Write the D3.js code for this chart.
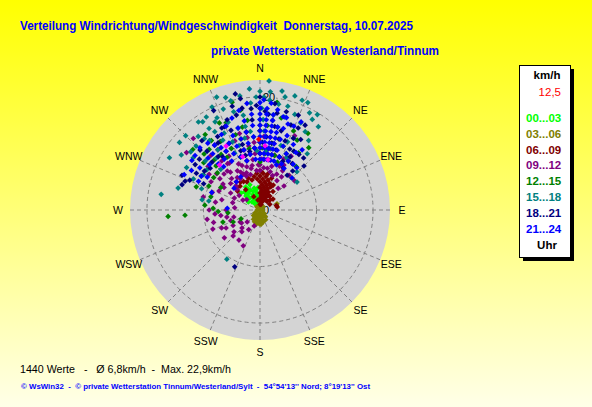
<!DOCTYPE html>
<html>
<head>
<meta charset="utf-8">
<script src="https://cdn.jsdelivr.net/npm/d3@7"></script>
<style>
  body { margin: 0; overflow: hidden; }
  text { font-family: "Liberation Sans", Arial, sans-serif; }
</style>
</head>
<body>
<div id="chart"></div>
<script>
/*
------------------------------
DATA
------------------------------
*/
const titleText = "Verteilung Windrichtung/Windgeschwindigkeit  Donnerstag, 10.07.2025";
const subtitleText = "private Wetterstation Westerland/Tinnum";
const statsText = "1440 Werte   -   Ø 6,8km/h  -  Max. 22,9km/h";
const footerText = "© WsWin32  -  © private Wetterstation Tinnum/Westerland/Sylt  -  54°54'13'' Nord; 8°19'13'' Ost";

const compassLabels = ["N", "NNE", "NE", "ENE", "E", "ESE", "SE", "SSE", "S", "SSW", "SW", "WSW", "W", "WNW", "NW", "NNW"];
const ringTicks = [10, 20];
const ringLabels = [0, 20];
const maxSpeed = 23;

const timeSlots = ["00...03", "03...06", "06...09", "09...12", "12...15", "15...18", "18...21", "21...24"];

// [direction in degrees, speed in km/h]
const slot00 = [[315,2],[315,3.5],[320,1.5],[320,2.8],[320,4.2],[325,2],[325,3.6],[330,1.5],[330,2.5],[330,4.2],[335,2],[335,3],[340,1.5],[340,3.5],[345,1],[345,2.5],[345,4],[350,1.5],[350,3],[355,1],[355,2.2],[355,4],[0,1.5],[0,3],[5,2],[305,2.5],[310,3],[312,4.5],[338,4.8],[328,4.8],[342,2.6],[333,3.9],[318,3],[326,1],[336,1.2],[348,3.6],[352,2],[322,3.8]];
const slot03 = [[0,0],[180,0.5],[180,1],[180,1.5],[180,2],[170,1],[170,1.8],[190,1],[190,1.8],[200,1.2],[200,2],[160,1.3],[160,0.8],[210,1.6],[150,1],[220,1],[185,2.3],[175,2.5],[90,0.5],[270,0.5],[70,3.2],[195,2.6],
  [150,2],[140,1.5],[230,1.5],[240,1],[165,2.2],[205,2.3],[215,2],[180,2.5],[130,1],[0,0.5],[45,0.8],[315,0.8]];
const slot06 = [[0,1],[0,2],[0,3],[0,4],[0,5],[0,6],[5,1.5],[5,2.5],[5,3.5],[5,4.5],[5,5.5],[5,6.5],[10,1],[10,2],[10,3],[10,4],[10,5],[10,6],[15,1.5],[15,2.5],[15,3.5],[15,4.5],[15,5.5],[20,2],[20,3],[20,4],[20,5],[25,2.5],[25,3.5],[25,4.5],[30,2],[30,3],[35,3],[40,2],[45,2.5],[60,2],[75,3],[80,3.1],[355,5.5],[355,6.5],[350,6],[345,5.5],[340,6],[335,5.5],[330,5.8],[325,6],[320,5.5],[315,5.8],[310,5.2],[2,6.8],[12,6.5],[20,6],[28,5],[35,4],[50,3],
  [335,2.6],[348,1.8],[325,4.4]];
const slot09 = [[317,17.3],[308,16.5],[283,10.3],[260,9.5],[242,6.8],[226,6.6],[255,4.8],[239,4.1],[227,3.1],[327,9.9],[350,13],[25,14.5],[308,9],[300,6],[285,7],[270,6],[265,8],[250,5.5],[235,4],[220,5],[232,8],[245,7.5],[258,6],[275,4.5],[340,10],[345,9],[350,8],[355,7],[0,7],[15,7],[20,6.5],[25,7],[30,6],[330,8],[325,7],[320,6.5],[315,6],[335,7],[340,7],[345,6.5],[335,9],[330,11],[325,10],[320,9],[345,11],[350,10],[355,12],[0,10],[5,11],[10,9],[15,8],[20,10],[28,9],[12,12],[3,13],[358,8],[348,7.5],[338,6.5],[322,11],[318,13],[310,12],[305,8],[30,11],[40,8],[333,7.5],[343,8],[312,7],[328,6.5],
  [300,10],[295,8],[290,9],[315,9],[310,10],[305,11],[335,12],[340,13],[345,14],[325,13],[330,14],[355,10],[0,8],[0,12],[5,9],[10,7.5],[15,10],[25,10],[30,8],[35,10],[45,6],[50,8],[40,5],[5,7.5],[10,11],[295,5],[285,5],[280,8],[270,9],[262,7],[255,8.5],[248,9],[240,5.5],[230,6],[225,4.5],[215,6.5],[210,4],[205,7],[200,3],[350,11.5],[0,14],[8,13],
  [318,7.5],[322,8.5],[338,8.5],[352,9],[2,9],[24,8.5],[33,7],[312,5.5],[302,7.5],[305,4.5],[300,3.5],[308,3]];
const slot12 = [[345.5,19.7],[339,16.6],[349,18],[9,19.3],[23,15.2],[34,12.2],[266,16.3],[266,13.3],[252,6.9],[265,5.7],[275,9.8],[272,8.3],[246,5.2],[245,3.7],[13,16.7],[324,16.5],[311,10],[268,7.4],[330,14],[335,12],[325,12],[320,14],[315,11],[340,10],[345,13],[350,11],[0,8.5],[5,10],[10,12],[15,10],[20,9],[25,11],[30,10],[0,14],[5,15],[352,16],[310,13],[300,12],[28,14],[40,10],
  [315,14],[312,16],[318,12],[305,10],[300,8],[295,10],[290,12],[285,9],[325,15],[335,17],[342,14],[348,15],[328,11],[2,11],[15,13],[20,12],[32,16],[38,14],[45,8]];
const slot15 = [[4,22.9],[339,21.4],[343,20.8],[21,20.8],[27,19.3],[17,21.1],[10.5,21.4],[12.5,20.5],[335,20.1],[327,18.6],[315,18.6],[310,18.6],[300,18.5],[279,17.7],[324,15.2],[302,11.8],[307,11.8],[214,10.5],[280,10.4],[280,9.2],[31,19.7],[24,20.8],[44,9.4],[27,10.4],[53,8.2],[330,16],[332,14],[335,15],[338,13],[325,13],[320,12],[318,14],[322,16],[328,17],[333,17.5],[340,16.5],[345,15],[342,12],[336,11],[316,10],[312,13],[308,15],[345,18],[350,17],[355,19],[358,20],[1,18],[2,16],[3,14],[5,19.5],[8,17],[12,15],[15,17],[20,16],[25,14],[30,12],[18,12],[10,11],[357,10.5],[35,15],[40,13],[348,13],[353,14],[0,12],[6,10.5],
  [305,17],[310,16],[300,15],[295,13],[290,11],[285,15],[315,16],[320,17],[325,19],[330,19],[335,18],[340,19],[345,20],[350,20.5],[355,21.5],[0,21],[5,21],[10,19],[15,19],[20,18],[25,17],[30,16],[35,18],[30,18.5],[22,13],[350,15],[355,13],[0,16],[5,17],[2,20]];
const slot18 = [[348,21],[335,19.4],[22,18.1],[288,14.5],[293,13.5],[291,14.2],[294,15.1],[204,11],[38,7.8],[29.5,10.8],[30,14.4],[29,8.5],[350,18.3],[10,17.4],[346,17.3],[25,16],[35,12],[40,9],[340,15],[335,13],[330,12],[325,11.5],[315,12],[310,11.5],[345,12],[350,14],[355,16],[0,15],[5,13],[10,12],[15,11],[20,10],[25,9.5],[355,11],[350,10.5],[345,10],[0,10],[20,13],[15,14.5],[8,16],[3,17.5],[358,18.5],[337,16],[328,14],[318,14],[305,12],[45,11],[12,10],[26,12],
  [355,18],[0,18],[5,17],[10,15],[15,13],[20,16],[25,14],[30,12],[35,10],[40,12],[340,17],[335,16],[330,15],[325,14],[320,16],[315,15],[310,14],[305,14],[300,13],[295,11],[345,19],[350,20],[0,20],[8,19],[15,18],[28,17],[342,11],[322,12],[2,12],[8,11]];
const slot21 = [[0,9],[0,10],[0,11],[0,12],[0,13],[0,14],[0,15],[0,16],[0,17],[0,18],[0,19],[4,9],[4,10],[4,11],[4,12],[4,13],[4,14],[4,15],[4,16],[4,17],[4,18],[8,9],[8,10],[8,11],[8,12],[8,13],[8,14],[8,15],[8,16],[8,17],[12,9],[12,10],[12,11],[12,12],[12,13],[12,14],[12,15],[16,9],[16,11],[16,13],[16,15],[16,17],[20,8.5],[20,10],[20,12],[20,14],[25,17.2],[25,9],[25,11],[30,8.5],[30,10],[41,9.9],[35,13],[355,9],[355,11],[355,13],[355,15],[355,17],[350,10],[350,12],[350,14],[350,16],[345,9],[345,11],[345,13],[345,15],[340,10],[340,12],[340,14],[335,11],[335,13],[330,10],[330,12],[325,11],[325,14],[320,10],[320,13],[316,15.3],[306,14.9],[295,14.8],[290,9.1],[273,5.8],[312,12],[302,11],[310,15],[305,13],[315,13],[300,14],
  [318,11],[322,15],[328,13],[333,15],[338,16],[343,17],[348,18],[353,19],[2,19.5],[6,19],[10,18],[14,17],[18,16],[22,16],[27,13],[32,12],[36,10],[45,8],[300,12],[295,12],[320,6.5],[310,6],[330,6.8]];
const slotData = [slot00, slot03, slot06, slot09, slot12, slot15, slot18, slot21];

const specialPoints = [[4.5,11.4],[332,12.8],[318,10.7],[9,9],[342,9.9]];
const averagePoint = [359, 12.5];
const averageLabel = "12,5";

/*
------------------------------
STYLES
------------------------------
*/
const width = 592;
const height = 407;
const cx = 260, cy = 210, outerR = 130;
const slotColors = ["#00ff00", "#808000", "#800000", "#800080", "#008000", "#008080", "#000080", "#0000ff"];

const svg = d3.select("#chart").append("svg")
  .attr("width", width)
  .attr("height", height);

// background gradient
const grad = svg.append("defs").append("linearGradient")
  .attr("id", "bg").attr("x1", 0).attr("y1", 0).attr("x2", 0).attr("y2", 1);
grad.append("stop").attr("offset", "0%").attr("stop-color", "#ffff00");
grad.append("stop").attr("offset", "100%").attr("stop-color", "#ffffe8");
svg.append("rect").attr("width", width).attr("height", height).attr("fill", "url(#bg)");

// scales
const r = d3.scaleLinear().domain([0, maxSpeed]).range([0, outerR]);
const angle = d3.scaleLinear().domain([0, 360]).range([0, 2 * Math.PI]);
const px = d => cx + r(d[1]) * Math.sin(angle(d[0]));
const py = d => cy - r(d[1]) * Math.cos(angle(d[0]));

// titles
svg.append("text").attr("x", 20).attr("y", 30)
  .attr("textLength", 393).attr("lengthAdjust", "spacingAndGlyphs")
  .style("white-space", "pre")
  .attr("font-size", 12.5).attr("font-weight", "bold").attr("fill", "#0000ff")
  .text(titleText);
svg.append("text").attr("x", 211).attr("y", 54.5)
  .attr("textLength", 228).attr("lengthAdjust", "spacingAndGlyphs")
  .attr("font-size", 12.5).attr("font-weight", "bold").attr("fill", "#0000ff")
  .text(subtitleText);

// polar area
svg.append("circle").attr("cx", cx).attr("cy", cy).attr("r", outerR).attr("fill", "#d4d4d4");

const grid = svg.append("g")
  .attr("stroke", "#808080").attr("stroke-dasharray", "4,3").attr("fill", "none");
grid.selectAll("circle").data(ringTicks).enter().append("circle")
  .attr("cx", cx).attr("cy", cy).attr("r", d => r(d));
grid.selectAll("line").data(compassLabels).enter().append("line")
  .attr("x1", cx).attr("y1", cy)
  .attr("x2", (d, i) => px([i * 22.5, maxSpeed]))
  .attr("y2", (d, i) => py([i * 22.5, maxSpeed]));

// compass labels
svg.append("g").selectAll("text").data(compassLabels).enter().append("text")
  .attr("x", (d, i) => cx + 142 * Math.sin(angle(i * 22.5)))
  .attr("y", (d, i) => cy - 142 * Math.cos(angle(i * 22.5)))
  .attr("text-anchor", "middle").attr("dominant-baseline", "central")
  .attr("font-size", 10.5).attr("fill", "#000")
  .text(d => d);

// ring labels
const rl = svg.append("g").selectAll("g").data(ringLabels).enter().append("g")
  .attr("transform", d => `translate(${cx + 2},${cy - r(d)})`);
rl.append("rect").attr("x", 0).attr("y", -6).attr("width", d => String(d).length * 6 + 2).attr("height", 12)
  .attr("fill", "#d4d4d4");
rl.append("text").attr("x", 1).attr("y", 0).attr("dominant-baseline", "central")
  .attr("font-size", 11).attr("fill", "#000").text(d => d);

// wind points
const diamond = d3.symbol(d3.symbolSquare, 16);
slotData.forEach(function (points, i) {
  svg.append("g").attr("fill", slotColors[i])
    .selectAll("path").data(points).enter().append("path")
    .attr("d", diamond)
    .attr("transform", d => `translate(${px(d)},${py(d)}) rotate(45)`);
});
svg.append("g").attr("fill", "#ff00ff")
  .selectAll("path").data(specialPoints).enter().append("path")
  .attr("d", diamond)
  .attr("transform", d => `translate(${px(d)},${py(d)}) rotate(45)`);
svg.append("path").datum(averagePoint).attr("fill", "#ff0000")
  .attr("d", diamond)
  .attr("transform", d => `translate(${px(d)},${py(d)}) rotate(45)`);

// legend
const legend = svg.append("g");
legend.append("rect").attr("x", 523).attr("y", 69).attr("width", 51).attr("height", 192).attr("fill", "#000");
legend.append("rect").attr("x", 519.5).attr("y", 65.5).attr("width", 51).attr("height", 192)
  .attr("fill", "#fff").attr("stroke", "#000");
legend.append("text").attr("x", 547).attr("y", 79).attr("text-anchor", "middle")
  .attr("font-size", 11.5).attr("font-weight", "bold").text("km/h");
legend.append("text").attr("x", 561).attr("y", 96).attr("text-anchor", "end")
  .attr("font-size", 11.5).attr("fill", "#ff0000").text(averageLabel);
legend.selectAll("text.slot").data(timeSlots).enter().append("text")
  .attr("class", "slot")
  .attr("x", 526).attr("y", (d, i) => 122 + i * 15.8)
  .attr("font-size", 11.5).attr("font-weight", "bold")
  .attr("fill", (d, i) => slotColors[i])
  .text(d => d);
legend.append("text").attr("x", 547).attr("y", 249).attr("text-anchor", "middle")
  .attr("font-size", 11.5).attr("font-weight", "bold").text("Uhr");

// bottom texts
svg.append("text").attr("x", 20).attr("y", 373)
  .attr("textLength", 211).attr("lengthAdjust", "spacingAndGlyphs")
  .style("white-space", "pre")
  .attr("font-size", 11.5).attr("fill", "#000")
  .text(statsText);
svg.append("text").attr("x", 21).attr("y", 389)
  .attr("textLength", 349).attr("lengthAdjust", "spacingAndGlyphs")
  .style("white-space", "pre")
  .attr("font-size", 8).attr("font-weight", "bold").attr("fill", "#0000ff")
  .text(footerText);
</script>
</body>
</html>
